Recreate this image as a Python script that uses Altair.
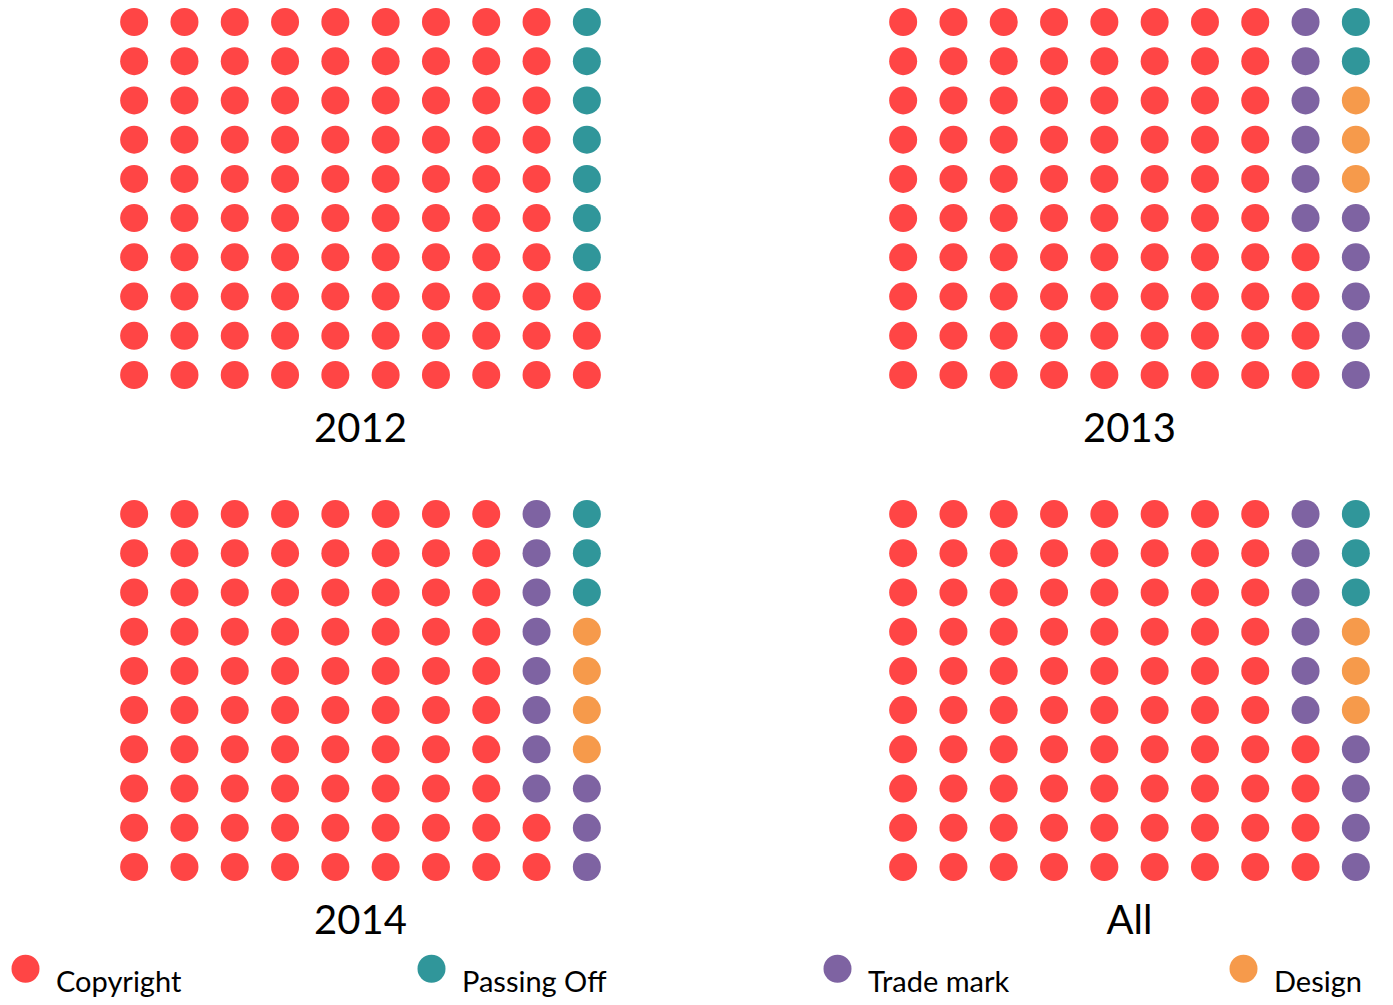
import altair as alt
import pandas as pd

# ---- data ----
panels = ["2012", "2013", "2014", "All"]
fill_order = ["Copyright", "Trade mark", "Design", "Passing Off"]
copyright_counts = [93, 84, 82, 84]
trademark_counts = [0, 11, 11, 10]
design_counts = [0, 3, 4, 3]
passing_off_counts = [7, 2, 3, 3]

legend_order = ["Copyright", "Passing Off", "Trade mark", "Design"]
legend_colors = ["#FF4545", "#30969A", "#7E63A2", "#F69A4B"]

counts = {
    "Copyright": copyright_counts,
    "Trade mark": trademark_counts,
    "Design": design_counts,
    "Passing Off": passing_off_counts,
}

records = []
for pi, p in enumerate(panels):
    k = 0
    for cat in fill_order:
        for _ in range(counts[cat][pi]):
            records.append({"panel": p, "category": cat, "col": k // 10, "row": k % 10})
            k += 1
df = pd.DataFrame(records)

base = alt.Chart(df).mark_circle(size=784, opacity=1).encode(
    x=alt.X("col:Q", scale=alt.Scale(domain=[-0.5, 9.5], nice=False, zero=False), axis=None),
    y=alt.Y("row:Q", scale=alt.Scale(domain=[-0.357, 9.357], nice=False, zero=False), axis=None),
    color=alt.Color(
        "category:N",
        scale=alt.Scale(domain=legend_order, range=legend_colors),
        legend=alt.Legend(
            title=None,
            orient="none",
            legendX=-98,
            legendY=946,
            direction="horizontal",
            columns=4,
            columnPadding=216,
            gridAlign="all",
            symbolSize=784,
            symbolType="circle",
            symbolOpacity=1,
            symbolStrokeWidth=0,
            labelFont="Lato",
            labelFontSize=29,
            labelColor="black",
            labelOffset=16,
            labelBaseline="top",
            labelLimit=0,
        ),
    ),
).properties(width=503, height=381)

chart = base.facet(
    facet=alt.Facet(
        "panel:N",
        sort=panels,
        title=None,
        header=alt.Header(
            labelOrient="bottom",
            labelFont="Lato",
            labelFontSize=40,
            labelColor="black",
            labelPadding=21,
            labelExpr="datum.value == 'All' ? datum.value : datum.value + '\u2007'",
        ),
    ),
    columns=2,
    spacing={"row": 50, "column": 266},
).properties(
    padding={"left": 3, "top": 0, "right": 0, "bottom": 0}
).configure_view(stroke=None)

chart.save("out.html", embed_options={"renderer": "svg", "actions": False})
